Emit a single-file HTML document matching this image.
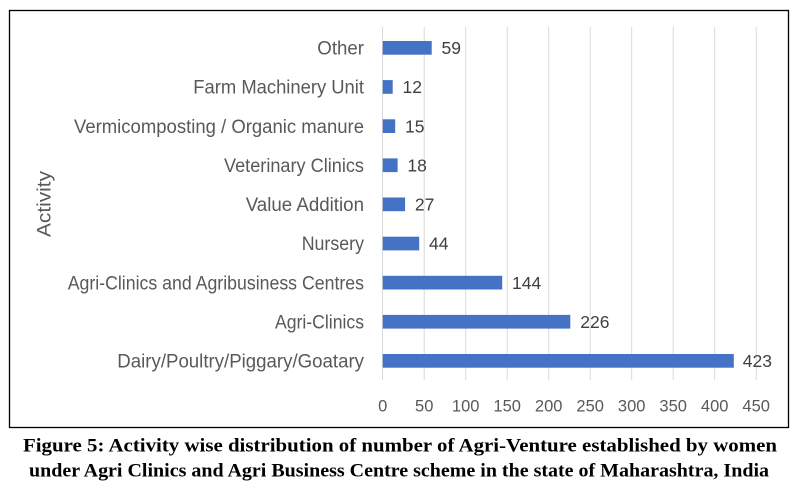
<!DOCTYPE html>
<html>
<head>
<meta charset="utf-8">
<style>
  html, body { margin: 0; padding: 0; background: #ffffff; }
  svg { display: block; }
</style>
</head>
<body>
<svg width="797" height="497" viewBox="0 0 797 497" xmlns="http://www.w3.org/2000/svg">
  <rect x="0" y="0" width="797" height="497" fill="#ffffff"/>
  <!-- chart border -->
  <rect x="9.5" y="10.5" width="779" height="417" fill="none" stroke="#000000" stroke-width="1.3"/>

  <!-- gridlines -->
  <g stroke="#d9d9d9" stroke-width="1">
    <line x1="424.2" y1="27" x2="424.2" y2="380"/>
    <line x1="465.7" y1="27" x2="465.7" y2="380"/>
    <line x1="507.2" y1="27" x2="507.2" y2="380"/>
    <line x1="548.7" y1="27" x2="548.7" y2="380"/>
    <line x1="590.2" y1="27" x2="590.2" y2="380"/>
    <line x1="631.7" y1="27" x2="631.7" y2="380"/>
    <line x1="673.2" y1="27" x2="673.2" y2="380"/>
    <line x1="714.7" y1="27" x2="714.7" y2="380"/>
    <line x1="756.2" y1="27" x2="756.2" y2="380"/>
    <line x1="382.5" y1="27" x2="382.5" y2="380"/>
  </g>

  <!-- bars -->
  <g fill="#4472c4">
    <rect x="382.7" y="41.0" width="49.0" height="13.7"/>
    <rect x="382.7" y="80.1" width="10.0" height="13.7"/>
    <rect x="382.7" y="119.3" width="12.5" height="13.7"/>
    <rect x="382.7" y="158.4" width="14.9" height="13.7"/>
    <rect x="382.7" y="197.5" width="22.4" height="13.7"/>
    <rect x="382.7" y="236.7" width="36.5" height="13.7"/>
    <rect x="382.7" y="275.8" width="119.5" height="13.7"/>
    <rect x="382.7" y="314.9" width="187.6" height="13.7"/>
    <rect x="382.7" y="354.0" width="351.1" height="13.7"/>
  </g>

  <!-- value labels -->
  <g font-family="'Liberation Sans', Arial, sans-serif" font-size="17.5" fill="#404040">
    <text x="441.5" y="54.1">59</text>
    <text x="402.5" y="93.2">12</text>
    <text x="405.0" y="132.3">15</text>
    <text x="407.4" y="171.4">18</text>
    <text x="414.9" y="210.6">27</text>
    <text x="429.0" y="249.7">44</text>
    <text x="512.0" y="288.8">144</text>
    <text x="580.3" y="328.0">226</text>
    <text x="742.8" y="367.1">423</text>
  </g>

  <!-- category labels -->
  <g font-family="'Liberation Sans', Arial, sans-serif" font-size="19" fill="#595959" text-anchor="end">
    <text x="364" y="54.5" textLength="46.7" lengthAdjust="spacingAndGlyphs">Other</text>
    <text x="364" y="93.6" textLength="170.7" lengthAdjust="spacingAndGlyphs">Farm Machinery Unit</text>
    <text x="364" y="132.8" textLength="290" lengthAdjust="spacingAndGlyphs">Vermicomposting / Organic manure</text>
    <text x="364" y="171.9" textLength="140" lengthAdjust="spacingAndGlyphs">Veterinary Clinics</text>
    <text x="364" y="211.0" textLength="118.3" lengthAdjust="spacingAndGlyphs">Value Addition</text>
    <text x="364" y="250.2" textLength="62.3" lengthAdjust="spacingAndGlyphs">Nursery</text>
    <text x="364" y="289.3" textLength="296.3" lengthAdjust="spacingAndGlyphs">Agri-Clinics and Agribusiness Centres</text>
    <text x="364" y="328.4" textLength="89" lengthAdjust="spacingAndGlyphs">Agri-Clinics</text>
    <text x="364" y="367.6" textLength="246.7" lengthAdjust="spacingAndGlyphs">Dairy/Poultry/Piggary/Goatary</text>
  </g>

  <!-- axis title -->
  <text transform="translate(50.5,204) rotate(-90)" font-family="'Liberation Sans', Arial, sans-serif" font-size="19" fill="#595959" text-anchor="middle" textLength="66" lengthAdjust="spacingAndGlyphs">Activity</text>

  <!-- x tick labels -->
  <g font-family="'Liberation Sans', Arial, sans-serif" font-size="16.5" fill="#595959" text-anchor="middle">
    <text x="382.7" y="411.7">0</text>
    <text x="424.2" y="411.7">50</text>
    <text x="465.7" y="411.7">100</text>
    <text x="507.2" y="411.7">150</text>
    <text x="548.7" y="411.7">200</text>
    <text x="590.2" y="411.7">250</text>
    <text x="631.7" y="411.7">300</text>
    <text x="673.2" y="411.7">350</text>
    <text x="714.7" y="411.7">400</text>
    <text x="756.2" y="411.7">450</text>
  </g>

  <!-- caption -->
  <g font-family="'Liberation Serif', 'Times New Roman', serif" font-size="19" font-weight="bold" fill="#000000" text-anchor="middle">
    <text x="400" y="451.5" textLength="754" lengthAdjust="spacingAndGlyphs">Figure 5: Activity wise distribution of number of Agri-Venture established by women</text>
    <text x="399" y="476.5" textLength="740" lengthAdjust="spacingAndGlyphs">under Agri Clinics and Agri Business Centre scheme in the state of Maharashtra, India</text>
  </g>
</svg>
</body>
</html>
